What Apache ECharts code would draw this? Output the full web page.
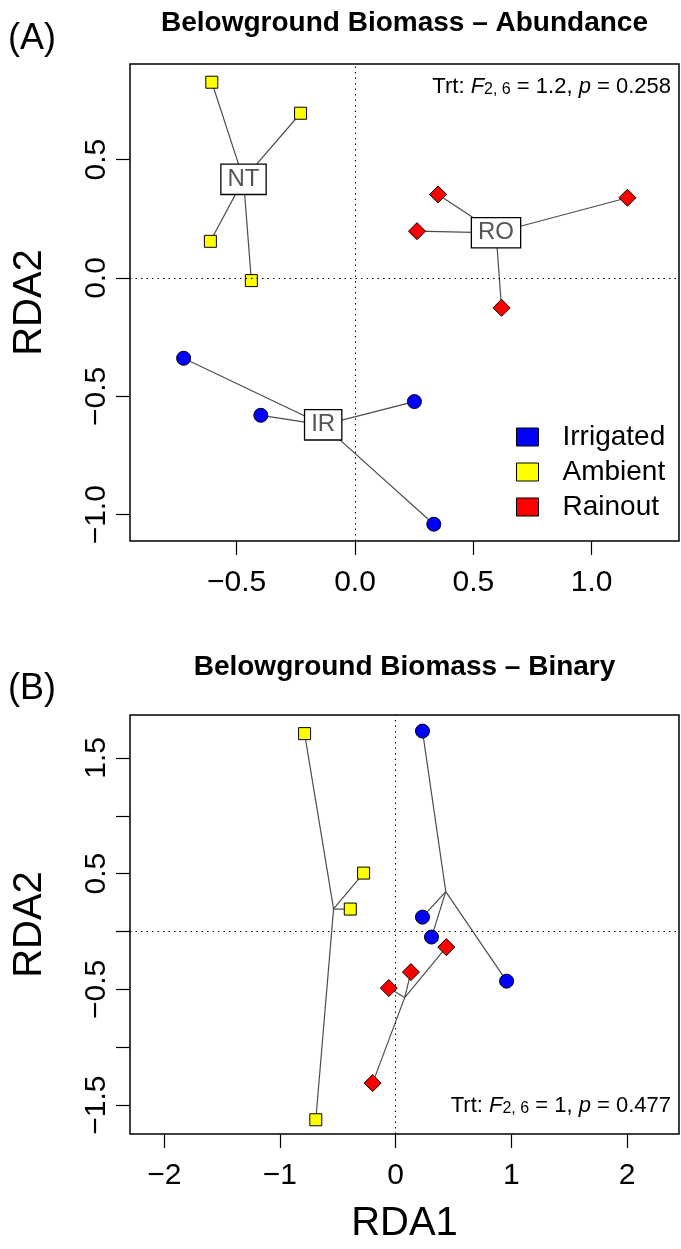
<!DOCTYPE html>
<html><head><meta charset="utf-8">
<script src="https://cdn.jsdelivr.net/npm/echarts@6/dist/echarts.min.js"></script>
<style>html,body{margin:0;padding:0;background:#fff}#c{width:681px;height:1249px}</style>
</head><body><div id="c"></div>
<script>
// ---------- data ----------
const groups = ['Irrigated', 'Ambient', 'Rainout'];
const groupCodes = ['IR', 'NT', 'RO'];

// Panel A: Belowground Biomass – Abundance (RDA1, RDA2 site scores)
const abundIrrigatedX = [-0.724, -0.398, 0.251, 0.333];
const abundIrrigatedY = [-0.339, -0.580, -0.522, -1.040];
const abundAmbientX   = [-0.605, -0.230, -0.611, -0.438];
const abundAmbientY   = [0.827, 0.696, 0.155, -0.011];
const abundRainoutX   = [0.351, 1.151, 0.262, 0.619];
const abundRainoutY   = [0.353, 0.339, 0.198, -0.126];

// Panel B: Belowground Biomass – Binary
const binIrrigatedX = [0.232, 0.232, 0.310, 0.959];
const binIrrigatedY = [1.732, 0.124, -0.048, -0.429];
const binAmbientX   = [-0.787, -0.277, -0.392, -0.690];
const binAmbientY   = [1.710, 0.505, 0.194, -1.627];
const binRainoutX   = [0.438, 0.132, -0.059, -0.199];
const binRainoutY   = [-0.135, -0.351, -0.489, -1.310];

const panelTitles  = ['Belowground Biomass \u2013 Abundance', 'Belowground Biomass \u2013 Binary'];
const panelLetters = ['(A)', '(B)'];
const statF   = ['1.2', '1'];
const statP   = ['0.258', '0.477'];
const statDf  = '2, 6';

const abundXTicks = [-0.5, 0, 0.5, 1.0];
const abundYTicks = [-1.0, -0.5, 0, 0.5];
const binXTicks   = [-2, -1, 0, 1, 2];
const binYTicks   = [-1.5, -1, -0.5, 0, 0.5, 1, 1.5];
const binYLabels  = [-1.5, -0.5, 0.5, 1.5];

// ---------- styling / layout ----------
const FONT = '"Liberation Sans", Arial, Helvetica, sans-serif';
const groupColors  = ['#0000FF', '#FFFF00', '#FF0000'];
const groupSymbols = ['circle', 'rect', 'diamond'];
const groupSizes   = [14, 12, 17];
const SPIDER = '#4d4d4d';

const panels = [
  { data: [[abundIrrigatedX, abundIrrigatedY], [abundAmbientX, abundAmbientY], [abundRainoutX, abundRainoutY]],
    grid: { left: 130, top: 64, width: 549, height: 477 },
    xr: [-0.9506, 1.3688], yr: [-1.111, 0.904],
    xTicks: abundXTicks, xLabels: abundXTicks, yTicks: abundYTicks, yLabels: abundYTicks,
    dec: 1, labels: true, xName: '', titleY: 23.5, letterY: 39, statY: 87 },
  { data: [[binIrrigatedX, binIrrigatedY], [binAmbientX, binAmbientY], [binRainoutX, binRainoutY]],
    grid: { left: 130, top: 715, width: 549, height: 419 },
    xr: [-2.296, 2.449], yr: [-1.750, 1.871],
    xTicks: binXTicks, xLabels: binXTicks, yTicks: binYTicks, yLabels: binYLabels,
    dec: 0, labels: false, xName: 'RDA1', titleY: 667.5, letterY: 689, statY: 1106 }
];

function fmt(v, dec) {
  const s = Math.abs(v).toFixed(dec === 1 ? 1 : (Number.isInteger(v) ? 0 : 1));
  return (v < -1e-9 ? '\u2212' : '') + s;
}
const mean = a => a.reduce((s, v) => s + v, 0) / a.length;

const grids = [], xAxes = [], yAxes = [], series = [], graphics = [];

panels.forEach((P, p) => {
  grids.push(Object.assign({ show: true, borderColor: '#000', borderWidth: 1.5, backgroundColor: 'transparent', containLabel: false }, P.grid));
  xAxes.push({
    type: 'value', gridIndex: p, min: P.xr[0], max: P.xr[1], position: 'bottom',
    axisLine: { show: false, onZero: false },
    axisTick: { show: true, length: 14, customValues: P.xTicks, lineStyle: { color: '#000', width: 1.2 } },
    axisLabel: { show: true, customValues: P.xLabels, margin: 27, fontSize: 30, fontFamily: FONT, color: '#000',
                 formatter: v => fmt(v, P.dec) },
    splitLine: { show: false },
    name: P.xName, nameLocation: 'middle', nameGap: 70,
    nameTextStyle: { fontSize: 40, fontFamily: FONT, color: '#000' }
  });
  yAxes.push({
    type: 'value', gridIndex: p, min: P.yr[0], max: P.yr[1], position: 'left',
    axisLine: { show: false, onZero: false },
    axisTick: { show: true, length: 14, customValues: P.yTicks, lineStyle: { color: '#000', width: 1.2 } },
    axisLabel: { show: true, customValues: P.yLabels, margin: 18, rotate: 90, fontSize: 30, fontFamily: FONT, color: '#000',
                 formatter: v => fmt(v, 1) },
    splitLine: { show: false },
    name: 'RDA2', nameLocation: 'middle', nameGap: 80, nameRotate: 90,
    nameTextStyle: { fontSize: 40, fontFamily: FONT, color: '#000' }
  });

  P.data.forEach((d, g) => {
    const xs = d[0], ys = d[1];
    const cx = mean(xs), cy = mean(ys);
    const spider = [];
    xs.forEach((x, i) => { spider.push([cx, cy]); spider.push([x, ys[i]]); });
    const lineSeries = {
      type: 'line', name: groupCodes[g] + '-spider-' + p, xAxisIndex: p, yAxisIndex: p,
      data: spider, symbol: 'none', silent: true, z: 2, animation: false,
      lineStyle: { color: SPIDER, width: 1.2 }
    };
    if (g === 0) {
      lineSeries.markLine = {
        silent: true, symbol: 'none', label: { show: false }, animation: false,
        lineStyle: { color: '#000', width: 1, type: [1.5, 4] },
        data: [{ xAxis: 0 }, { yAxis: 0 }]
      };
    }
    series.push(lineSeries);
    series.push({
      type: 'scatter', name: groups[g], xAxisIndex: p, yAxisIndex: p,
      data: xs.map((x, i) => [x, ys[i]]),
      symbol: groupSymbols[g], symbolSize: groupSizes[g], z: 3, animation: false,
      itemStyle: { color: groupColors[g], borderColor: '#000', borderWidth: 1, opacity: 1 }
    });
    if (P.labels) {
      series.push({
        type: 'scatter', name: groupCodes[g] + '-label', xAxisIndex: p, yAxisIndex: p,
        data: [[cx, cy]], symbolSize: 1, z: 4, silent: true, animation: false,
        itemStyle: { color: 'rgba(0,0,0,0)' },
        label: { show: true, position: 'inside', formatter: groupCodes[g], fontSize: 24, fontFamily: FONT,
                 color: '#555555', backgroundColor: '#ffffff', borderColor: '#000000', borderWidth: 1.3,
                 opacity: 1, lineHeight: 24, padding: [3, 6, 2, 6] }
      });
    }
  });

  const cxTitle = P.grid.left + P.grid.width / 2;
  graphics.push({ type: 'text', x: cxTitle, y: P.titleY, z: 10,
    style: { text: panelTitles[p], fontSize: 28, fontWeight: 'bold', fontFamily: FONT, fill: '#000',
             align: 'center', verticalAlign: 'middle', textAlign: 'center', textVerticalAlign: 'middle' } });
  graphics.push({ type: 'text', x: 8, y: P.letterY, z: 10,
    style: { text: panelLetters[p], fontSize: 36, fontFamily: FONT, fill: '#000',
             align: 'left', verticalAlign: 'middle', textAlign: 'left', textVerticalAlign: 'middle' } });
  graphics.push({ type: 'text', x: 671, y: P.statY, z: 10,
    style: { text: 'Trt: {it|F}{sub|' + statDf + '}{n| = ' + statF[p] + ', }{it|p}{n| = ' + statP[p] + '}',
             fontSize: 22, fontFamily: FONT, fill: '#000',
             align: 'right', verticalAlign: 'middle', textAlign: 'right', textVerticalAlign: 'middle',
             rich: {
               n:   { fontSize: 22, fontFamily: FONT, lineHeight: 22 },
               it:  { fontSize: 22, fontFamily: FONT, fontStyle: 'italic', lineHeight: 22 },
               sub: { fontSize: 16, fontFamily: FONT, lineHeight: 16, padding: [13, 0, 0, 0], verticalAlign: 'bottom' }
             } } });
});

const chart = echarts.init(document.getElementById('c'), null, { renderer: 'canvas' });
chart.setOption({
  animation: false,
  backgroundColor: '#ffffff',
  grid: grids, xAxis: xAxes, yAxis: yAxes, series: series, graphic: graphics,
  legend: {
    data: groups.map(n => ({ name: n, icon: 'rect' })),
    orient: 'vertical', left: 516, top: 423, padding: 0,
    itemWidth: 22, itemHeight: 18, itemGap: 7, selectedMode: false,
    itemStyle: { borderColor: '#000', borderWidth: 1 },
    textStyle: { fontSize: 28, lineHeight: 28, fontFamily: FONT, color: '#000', padding: [0, 0, 0, 19] }
  }
});
</script></body></html>
